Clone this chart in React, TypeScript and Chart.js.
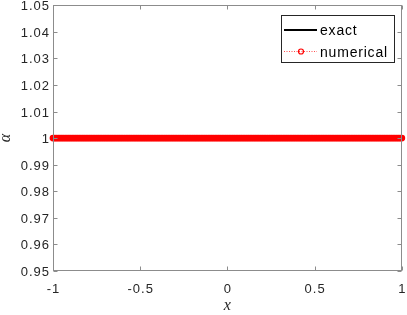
import React, { useEffect, useRef } from "react";
import { Chart, registerables } from "chart.js";
Chart.register(...registerables);

const xTicks = [-1, -0.5, 0, 0.5, 1];
const xTickLabels = ["-1", "-0.5", "0", "0.5", "1"];
const yTicks = [0.95, 0.96, 0.97, 0.98, 0.99, 1, 1.01, 1.02, 1.03, 1.04, 1.05];
const yTickLabels = ["0.95", "0.96", "0.97", "0.98", "0.99", "1", "1.01", "1.02", "1.03", "1.04", "1.05"];
const exactX = [-1, 1];
const exactY = [1, 1];
const numX = [
  -1, -0.99, -0.98, -0.97, -0.96, -0.95, -0.94, -0.93, -0.92, -0.91, -0.9, -0.89, -0.88, -0.87, -0.86, -0.85, -0.84,
  -0.83, -0.82, -0.81, -0.8, -0.79, -0.78, -0.77, -0.76, -0.75, -0.74, -0.73, -0.72, -0.71, -0.7, -0.69, -0.68, -0.67,
  -0.66, -0.65, -0.64, -0.63, -0.62, -0.61, -0.6, -0.59, -0.58, -0.57, -0.56, -0.55, -0.54, -0.53, -0.52, -0.51, -0.5,
  -0.49, -0.48, -0.47, -0.46, -0.45, -0.44, -0.43, -0.42, -0.41, -0.4, -0.39, -0.38, -0.37, -0.36, -0.35, -0.34, -0.33,
  -0.32, -0.31, -0.3, -0.29, -0.28, -0.27, -0.26, -0.25, -0.24, -0.23, -0.22, -0.21, -0.2, -0.19, -0.18, -0.17, -0.16,
  -0.15, -0.14, -0.13, -0.12, -0.11, -0.1, -0.09, -0.08, -0.07, -0.06, -0.05, -0.04, -0.03, -0.02, -0.01, 0, 0.01, 0.02,
  0.03, 0.04, 0.05, 0.06, 0.07, 0.08, 0.09, 0.1, 0.11, 0.12, 0.13, 0.14, 0.15, 0.16, 0.17, 0.18, 0.19, 0.2, 0.21, 0.22,
  0.23, 0.24, 0.25, 0.26, 0.27, 0.28, 0.29, 0.3, 0.31, 0.32, 0.33, 0.34, 0.35, 0.36, 0.37, 0.38, 0.39, 0.4, 0.41, 0.42,
  0.43, 0.44, 0.45, 0.46, 0.47, 0.48, 0.49, 0.5, 0.51, 0.52, 0.53, 0.54, 0.55, 0.56, 0.57, 0.58, 0.59, 0.6, 0.61, 0.62,
  0.63, 0.64, 0.65, 0.66, 0.67, 0.68, 0.69, 0.7, 0.71, 0.72, 0.73, 0.74, 0.75, 0.76, 0.77, 0.78, 0.79, 0.8, 0.81, 0.82,
  0.83, 0.84, 0.85, 0.86, 0.87, 0.88, 0.89, 0.9, 0.91, 0.92, 0.93, 0.94, 0.95, 0.96, 0.97, 0.98, 0.99, 1,
];
const numY = [
  1, 1, 1, 1, 1, 1, 1, 1, 1, 1, 1, 1, 1, 1, 1, 1, 1, 1, 1, 1, 1, 1, 1, 1, 1, 1, 1, 1, 1, 1, 1, 1, 1, 1, 1, 1, 1, 1, 1, 1,
  1, 1, 1, 1, 1, 1, 1, 1, 1, 1, 1, 1, 1, 1, 1, 1, 1, 1, 1, 1, 1, 1, 1, 1, 1, 1, 1, 1, 1, 1, 1, 1, 1, 1, 1, 1, 1, 1, 1, 1,
  1, 1, 1, 1, 1, 1, 1, 1, 1, 1, 1, 1, 1, 1, 1, 1, 1, 1, 1, 1, 1, 1, 1, 1, 1, 1, 1, 1, 1, 1, 1, 1, 1, 1, 1, 1, 1, 1, 1, 1,
  1, 1, 1, 1, 1, 1, 1, 1, 1, 1, 1, 1, 1, 1, 1, 1, 1, 1, 1, 1, 1, 1, 1, 1, 1, 1, 1, 1, 1, 1, 1, 1, 1, 1, 1, 1, 1, 1, 1, 1,
  1, 1, 1, 1, 1, 1, 1, 1, 1, 1, 1, 1, 1, 1, 1, 1, 1, 1, 1, 1, 1, 1, 1, 1, 1, 1, 1, 1, 1, 1, 1, 1, 1, 1, 1, 1, 1, 1, 1, 1,
  1,
];
const legendLabels = ["exact", "numerical"];
const xLabel = "x";
const yLabel = "α";

const FONT = '"Liberation Sans", Arial, Helvetica, sans-serif';
const TXT = "#262626";
const AX = "#8c8c8c";

const boxPlugin = {
  id: "matlabBox",
  afterDraw(chart: any) {
    const { ctx, chartArea: a, scales } = chart;
    ctx.save();
    ctx.strokeStyle = AX;
    ctx.lineWidth = 1;
    const L = Math.round(a.left) + 0.5, R = Math.round(a.right) - 0.5;
    const T = Math.round(a.top) + 0.5, B = Math.round(a.bottom) - 0.5;
    ctx.strokeRect(L, T, R - L, B - T);
    const tl = 4;
    ctx.beginPath();
    xTicks.forEach((v) => {
      const px = Math.round(scales.x.getPixelForValue(v)) + 0.5;
      ctx.moveTo(px, B); ctx.lineTo(px, B - tl);
      ctx.moveTo(px, T); ctx.lineTo(px, T + tl);
    });
    yTicks.forEach((v) => {
      const py = Math.round(scales.y.getPixelForValue(v)) + 0.5;
      ctx.moveTo(L, py); ctx.lineTo(L + tl, py);
      ctx.moveTo(R, py); ctx.lineTo(R - tl, py);
    });
    ctx.stroke();

    // tick labels
    ctx.fillStyle = TXT;
    ctx.font = "13px " + FONT;
    (ctx as any).letterSpacing = "1px";
    ctx.textBaseline = "alphabetic";
    ctx.textAlign = "right";
    yTicks.forEach((v, i) => {
      const py = scales.y.getPixelForValue(v);
      ctx.fillText(yTickLabels[i], 50, py + 5);
    });
    ctx.textAlign = "center";
    xTicks.forEach((v, i) => {
      const px = scales.x.getPixelForValue(v);
      ctx.fillText(xTickLabels[i], px + 0.5, 293);
    });
    (ctx as any).letterSpacing = "0px";

    // axis labels
    ctx.font = 'italic 16px "Liberation Serif", "DejaVu Serif", serif';
    ctx.textAlign = "center";
    ctx.textBaseline = "alphabetic";
    ctx.fillText(xLabel, (a.left + a.right) / 2, 310);
    ctx.save();
    ctx.translate(10, (a.top + a.bottom) / 2);
    ctx.rotate(-Math.PI / 2);
    ctx.fillText(yLabel, 0, 0);
    ctx.restore();

    // legend
    const lx = 281.5, ly = 15.5, lw = 113, lh = 47;
    ctx.fillStyle = "#ffffff";
    ctx.fillRect(lx, ly, lw, lh);
    ctx.strokeStyle = "#262626";
    ctx.lineWidth = 1;
    ctx.strokeRect(lx, ly, lw, lh);
    ctx.font = "14px " + FONT;
    (ctx as any).letterSpacing = "0.8px";
    ctx.textAlign = "left";
    ctx.textBaseline = "alphabetic";
    ctx.fillStyle = "#000";
    ctx.strokeStyle = "#000";
    ctx.lineWidth = 2;
    ctx.beginPath();
    ctx.moveTo(284, 30); ctx.lineTo(317, 30);
    ctx.stroke();
    ctx.fillText(legendLabels[0], 320, 35);
    ctx.strokeStyle = "#ff0000";
    ctx.lineWidth = 0.7;
    ctx.setLineDash([1, 1.5]);
    ctx.beginPath();
    ctx.moveTo(284, 51.5); ctx.lineTo(317, 51.5);
    ctx.stroke();
    ctx.setLineDash([]);
    ctx.lineWidth = 1.2;
    ctx.beginPath();
    ctx.arc(301, 51.5, 2.5, 0, Math.PI * 2);
    ctx.stroke();
    ctx.fillText(legendLabels[1], 320, 56.5);
    (ctx as any).letterSpacing = "0px";
    ctx.restore();
  },
};

export default function App() {
  const ref = useRef<HTMLCanvasElement>(null);
  useEffect(() => {
    if (!ref.current) return;
    const chart = new Chart(ref.current, {
      type: "scatter",
      data: {
        datasets: [
          {
            label: legendLabels[0],
            data: exactX.map((x, i) => ({ x, y: exactY[i] })),
            showLine: true,
            borderColor: "#000",
            borderWidth: 2,
            pointRadius: 0,
            order: 2,
          },
          {
            label: legendLabels[1],
            data: numX.map((x, i) => ({ x, y: numY[i] })),
            showLine: true,
            borderColor: "#ff0000",
            borderWidth: 0.7,
            borderDash: [1, 1.5],
            pointRadius: 2.8,
            pointBorderWidth: 1.2,
            pointBorderColor: "#ff0000",
            pointBackgroundColor: "#ff0000",
            clip: false as any,
            order: 1,
          },
        ],
      },
      options: {
        animation: false,
        responsive: false,
        maintainAspectRatio: false,
        layout: { padding: { top: 5, right: 3, left: 0, bottom: 0 } },
        plugins: { legend: { display: false }, tooltip: { enabled: false } },
        scales: {
          x: {
            type: "linear",
            min: -1,
            max: 1,
            grid: { display: false, drawTicks: false },
            border: { display: false },
            afterBuildTicks: (s: any) => { s.ticks = xTicks.map((v) => ({ value: v })); },
            ticks: { display: false },
            afterFit: (s: any) => {
              s.height = 44;
              s.paddingLeft = 0;
              s.paddingRight = 0;
            },
          },
          y: {
            type: "linear",
            min: 0.95,
            max: 1.05,
            grid: { display: false, drawTicks: false },
            border: { display: false },
            afterBuildTicks: (s: any) => { s.ticks = yTicks.map((v) => ({ value: v })); },
            ticks: { display: false },
            afterFit: (s: any) => {
              s.width = 53;
              s.paddingTop = 0;
              s.paddingBottom = 0;
            },
          },
        },
      },
      plugins: [boxPlugin],
    });
    return () => chart.destroy();
  }, []);
  return (
    <div style={{ position: "absolute", left: 0, top: 0, width: 407, height: 315, background: "#fff" }}>
      <canvas ref={ref} width={407} height={315} style={{ width: 407, height: 315, display: "block" }} />
    </div>
  );
}
